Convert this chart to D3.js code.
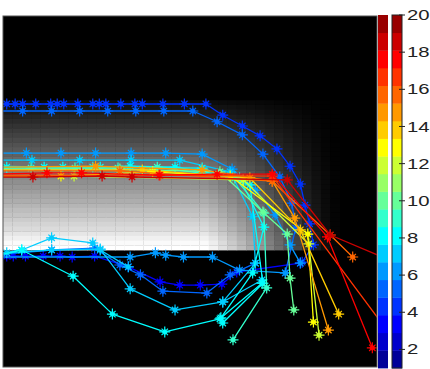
<!DOCTYPE html>
<html>
<head>
<meta charset="utf-8">
<script src="https://cdn.jsdelivr.net/npm/d3@7"></script>
<style>
  html, body { margin: 0; padding: 0; background: #fff; }
  svg { display: block; }
</style>
</head>
<body>
<svg id="chart" width="430" height="369"></svg>
<script>
// Field brightness: rows 18..49 are lit, fading towards the right-hand columns
const rowStart = 18;
const rowShade = [0.05,0.08,0.11,0.14,0.17,0.20,0.23,0.26,0.29,0.32,0.35,0.38,0.41,0.44,
  0.47,0.50,0.53,0.56,0.59,0.62,0.65,0.68,0.71,0.74,0.77,0.80,0.83,0.86,0.90,0.94,0.98,1.00];
const colShade = [1,1,1,1,1,1,1,1,1,1,1,1,1,1,1,1,1,1,1,1,1,1,
  0.95,0.88,0.81,0.74,0.67,0.59,0.51,0.43,0.35,0.27,0.19,0.12,0.06,0.02,0,0,0,0];

// Colour bar
const levelTicks = [2,4,6,8,10,12,14,16,18,20];
const levelRange = [1,20];
const jet20 = ["#000099","#0000cc","#0000ff","#0033ff","#0066ff","#0099ff","#00ccff","#00ffff",
  "#33ffcc","#66ff99","#99ff66","#ccff33","#ffff00","#ffcc00","#ff9900","#ff6600",
  "#ff3300","#ff0000","#cc0000","#990000"];

// Tracks in grid units [column, row]
const t01 = [[-0.9,18.8],[0.4,18.8],[1.3,18.8],[2.1,18.8],[3.5,18.8],[5.1,18.8],[5.8,18.8],[6.5,18.8],[8.0,18.8],[9.6,18.8],[10.3,18.8],[11.0,18.8],[12.6,18.8],[14.1,18.8],[14.9,18.8],[17.1,18.8],[19.4,18.8],[21.7,18.8],[23.5,21.2],[25.6,23.5],[27.5,25.6],[29.3,28.4],[30.7,32.1],[31.8,35.9],[32.3,40.4],[32.8,44.4],[33.2,48.9],[32.0,52.6]];
const t02 = [[-0.9,20.3],[2.1,20.3],[5.2,20.3],[8.2,20.3],[11.2,20.3],[14.2,20.3],[17.2,20.3],[20.3,20.3],[22.9,22.6],[25.6,25.4],[27.8,29.5],[29.6,34.4],[30.9,40.0],[31.3,45.3],[30.2,54.9]];
const t03 = [[-0.9,29.3],[2.5,29.3],[6.2,29.3],[9.9,29.3],[13.7,29.3],[17.4,29.3],[21.3,29.5],[24.5,32.7],[27.0,37.2],[29.1,42.5],[30.7,48.9],[31.8,52.8]];
const t04 = [[-0.9,30.8],[3.1,30.8],[8.2,30.8],[13.7,30.8],[18.9,30.8],[24.3,33.3],[26.7,42.9],[27.0,52.8],[23.5,61.1]];
const t05 = [[-0.9,32.3],[0.4,32.3],[4.4,32.3],[9.6,32.3],[13.6,32.1],[18.4,32.3],[25.3,34.6],[27.9,45.1],[26.7,54.9],[23.3,64.5]];
const t06 = [[-0.9,32.5],[3.0,32.5],[7.7,32.5],[12.3,32.5],[16.5,32.3],[24.8,34.6],[27.9,42.1],[28.2,58.1],[24.6,69.2]];
const t07 = [[-0.9,32.1],[6.4,32.3],[10.4,32.3],[21.3,32.5],[26.4,36.1],[27.8,57.1],[23.5,65.6]];
const t08 = [[-0.9,32.7],[12.5,32.7],[23.2,33.3],[27.8,41.9],[30.4,46.6],[30.7,56.0],[31.1,62.8]];
const t09 = [[-0.9,34.2],[6.2,34.2],[16.0,33.3],[24.3,34.2],[32.6,46.6],[33.2,65.4]];
const t10 = [[-0.9,34.2],[7.6,34.2],[25.7,35.0],[32.7,48.7],[33.8,68.2]];
const t11 = [[-0.9,32.3],[9.9,32.1],[21.3,32.9],[28.8,35.3],[31.2,43.2],[34.8,67.1]];
const t12 = [[-0.9,32.9],[14.9,32.9],[26.4,34.6],[31.8,45.7],[35.9,63.7]];
const t13 = [[-0.9,33.1],[12.5,33.1],[28.8,35.3],[35.0,46.8],[37.4,51.5]];
const t14 = [[-0.9,33.8],[4.7,33.5],[8.4,33.5],[16.7,34.0],[22.9,33.8],[28.8,33.8],[34.7,47.2],[39.5,70.9]];
const t15 = [[-0.9,34.4],[3.2,34.4],[10.6,34.2],[13.8,34.4],[30.4,35.0],[35.0,46.8],[41.9,52.6]];
const t16 = [[-0.9,34.0],[16.8,34.0],[28.8,34.2],[41.9,69.4]];
const t17 = [[-0.9,51.3],[2.0,50.0],[7.5,55.6],[11.7,63.7],[17.3,67.5],[23.2,64.7],[27.7,57.1]];
const t18 = [[-0.9,50.9],[0.4,50.6],[5.2,50.0],[10.4,49.8],[13.6,58.3],[18.4,62.8],[23.5,61.1],[27.7,56.4]];
const t19 = [[-0.9,51.3],[0.4,51.3],[1.1,51.3],[2.4,51.3],[4.3,51.3],[6.1,51.3],[7.4,51.5],[9.8,51.3],[13.4,53.6],[16.8,56.8],[18.9,57.5],[21.1,57.5],[23.4,57.3],[25.0,54.7],[31.8,52.8]];
const t20 = [[-0.9,51.1],[5.2,50.0],[9.8,49.6],[12.5,53.2],[14.7,55.3],[17.1,58.8],[21.8,59.2],[24.3,55.3],[27.0,52.8]];
const t21 = [[-0.9,51.5],[13.6,51.5],[16.3,50.6],[17.4,51.1],[19.3,51.5],[22.4,51.5],[25.3,54.3],[30.2,54.9]];
const t22 = [[-0.9,50.9],[2.0,50.0],[5.2,47.4],[9.6,48.5],[10.4,50.0],[13.4,53.6]];

const tracks = [t01,t02,t03,t04,t05,t06,t07,t08,t09,t10,t11,t12,t13,t14,t15,t16,t17,t18,t19,t20,t21,t22];
const trackLevel = [4,5,6,7,8,9,8,10,13,12,15,14,16,18,19,17,8,7,3,5,6,7];

const svg = d3.select("#chart");
const nCols = colShade.length, nRows = 75;
const x = d3.scaleLinear().domain([0, nCols]).range([3, 377]);
const y = d3.scaleLinear().domain([0, nRows]).range([16, 367]);

// Field image
svg.append("rect")
  .attr("x", x(0)).attr("y", y(0))
  .attr("width", x(nCols) - x(0)).attr("height", y(nRows) - y(0))
  .attr("fill", "#000");

const cells = [];
rowShade.forEach((rv, i) => colShade.forEach((cv, c) => {
  const v = rv * cv;
  if (v > 0) cells.push({ r: rowStart + i, c, v });
}));
const grey = v => { const k = Math.round(v * 255); return d3.rgb(k, k, k).formatHex(); };
svg.append("g")
  .selectAll("rect").data(cells).join("rect")
  .attr("x", d => x(d.c)).attr("y", d => y(d.r))
  .attr("width", d => x(d.c + 1) - x(d.c) + 0.4)
  .attr("height", d => y(d.r + 1) - y(d.r) + 0.4)
  .attr("fill", d => grey(d.v));

// Tracks, clipped to the axes
svg.append("clipPath").attr("id", "plotClip")
  .append("rect")
  .attr("x", x(0)).attr("y", y(0))
  .attr("width", x(nCols) - x(0)).attr("height", y(nRows) - y(0));

const plot = svg.append("g").attr("clip-path", "url(#plotClip)");
const line = d3.line().x(d => x(d[0])).y(d => y(d[1]));
const star = "M0,-5.5V5.5M-5.5,0H5.5M-3.2,-3.2L3.2,3.2M-3.2,3.2L3.2,-3.2";
const core = "M0,-2.5V2.5M-2.5,0H2.5";

d3.range(tracks.length)
  .sort((a, b) => trackLevel[a] - trackLevel[b])
  .forEach(i => {
    const col = jet20[trackLevel[i] - 1];
    const g = plot.append("g");
    g.append("path")
      .attr("d", line(tracks[i]))
      .attr("fill", "none")
      .attr("stroke", col)
      .attr("stroke-width", 1.3)
      .attr("stroke-linejoin", "round");
    const m = g.selectAll("g.mk").data(tracks[i]).join("g")
      .attr("class", "mk")
      .attr("transform", d => `translate(${x(d[0])},${y(d[1])})`);
    m.append("path").attr("d", star).attr("fill", "none").attr("stroke", col).attr("stroke-width", 1.2);
    m.append("path").attr("d", core).attr("fill", "none").attr("stroke", col).attr("stroke-width", 2.4);
  });

// Axes box
svg.append("rect")
  .attr("x", x(0)).attr("y", y(0))
  .attr("width", x(nCols) - x(0)).attr("height", y(nRows) - y(0))
  .attr("fill", "none").attr("stroke", "#555").attr("stroke-width", 1);

// Colour bar
const cb = d3.scaleLinear().domain(levelRange).range([368, 15]);
const step = (levelRange[1] - levelRange[0]) / jet20.length;
const blocks = jet20.map((c, k) => ({ c, lo: levelRange[0] + k * step, hi: levelRange[0] + (k + 1) * step }));

[[378, 10], [392, 10]].forEach(([bx, bw]) => {
  svg.append("g").selectAll("rect").data(blocks).join("rect")
    .attr("x", bx).attr("width", bw)
    .attr("y", d => cb(d.hi)).attr("height", d => cb(d.lo) - cb(d.hi) + 0.4)
    .attr("fill", d => d.c);
});
svg.append("rect")
  .attr("x", 392).attr("y", cb(levelRange[1]))
  .attr("width", 10).attr("height", cb(levelRange[0]) - cb(levelRange[1]))
  .attr("fill", "none").attr("stroke", "#222").attr("stroke-width", 1);

const axisG = svg.append("g");
axisG.selectAll("line").data(levelTicks).join("line")
  .attr("x1", 399).attr("x2", 405)
  .attr("y1", d => cb(d)).attr("y2", d => cb(d))
  .attr("stroke", "#222").attr("stroke-width", 1);
axisG.selectAll("text").data(levelTicks).join("text")
  .attr("transform", d => `translate(407,${cb(d)}) scale(1.45,1)`)
  .attr("dy", "0.36em")
  .attr("font-family", "Liberation Sans, Arial, sans-serif")
  .attr("font-size", 14)
  .attr("fill", "#222")
  .text(d => d);
</script>
</body>
</html>
